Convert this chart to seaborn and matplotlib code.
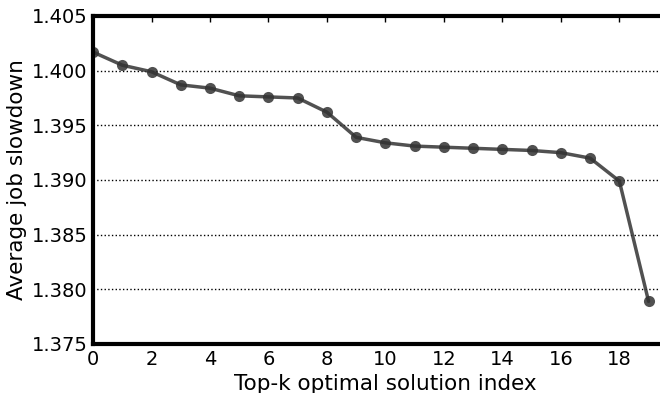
import matplotlib
matplotlib.use("Agg")
import matplotlib.pyplot as plt
import numpy as np
import pandas as pd
import seaborn as sns

# ── data ────────────────────────────────────────────────────────────
solution_index = list(range(20))
avg_slowdown = [
    1.4017, 1.4005, 1.3999, 1.3987, 1.3984, 1.3977, 1.3976, 1.3975,
    1.3962, 1.3939, 1.3934, 1.3931, 1.3930, 1.3929, 1.3928, 1.3927,
    1.3925, 1.3920, 1.3899, 1.3789,
]
y_ticks = [1.375, 1.380, 1.385, 1.390, 1.395, 1.400, 1.405]
x_ticks = list(range(0, 20, 2))

df = pd.DataFrame({"idx": solution_index, "slowdown": avg_slowdown})

sns.set_style("white")
plt.rcParams["font.family"] = ["DejaVu Sans"]

fig = plt.figure(figsize=(6.6, 3.93), dpi=100)
ax = fig.add_axes([0.141, 0.1247, 0.886, 0.8346])

sns.lineplot(
    data=df, x="idx", y="slowdown", ax=ax,
    color="#333333", lw=2.5, alpha=0.85,
    marker="o", markersize=8, markeredgewidth=0,
)

ax.set_xlim(0, 20)
ax.set_ylim(1.375, 1.405)
ax.set_xticks(x_ticks)
ax.set_yticks(y_ticks)
ax.set_yticklabels([f"{t:.3f}" for t in y_ticks])
ax.tick_params(axis="both", direction="in", labelsize=14, length=4, width=1,
               pad=4, colors="black", top=True, right=True)
ax.yaxis.grid(True, linestyle=":", color="black", lw=1)
ax.set_axisbelow(True)

for side in ["left", "bottom", "top", "right"]:
    ax.spines[side].set_linewidth(3)
    ax.spines[side].set_color("black")

ax.set_xlabel("Top-k optimal solution index", fontsize=15.5, labelpad=4,
              color="black")
ax.set_ylabel("Average job slowdown", fontsize=15.5, labelpad=3,
              color="black")

fig.savefig("out.png", dpi=100)
plt.close(fig)
